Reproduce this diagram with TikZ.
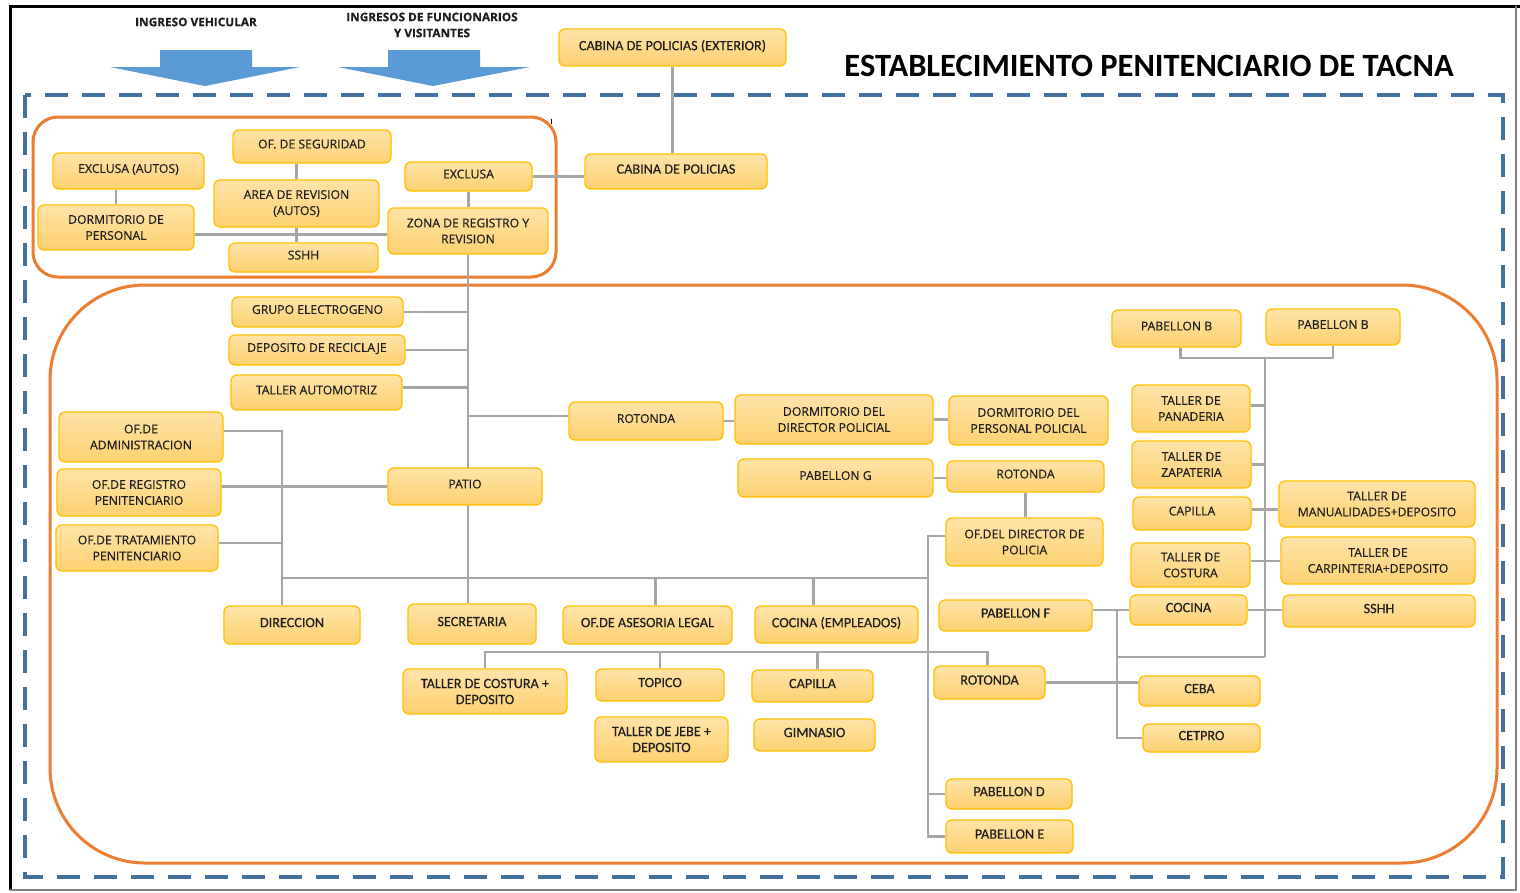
\documentclass[tikz,border=0pt]{standalone}
\usepackage{fontspec}
\setmainfont{Carlito}
\newfontfamily\osans{Open Sans}[FakeBold=0.35]
\newfontfamily\calfont{Carlito}[FakeBold=0.3]
\usetikzlibrary{calc}
\pgfdeclarelayer{bg}
\pgfsetlayers{bg,main}
\definecolor{orng}{HTML}{ED7D31}
\definecolor{dblue}{HTML}{41719C}
\definecolor{ablue}{HTML}{5B9BD5}
\definecolor{bxborder}{HTML}{FFC000}
\definecolor{bxtop}{HTML}{FFE3A8}
\definecolor{bxbot}{HTML}{FDD170}
\definecolor{lnk}{HTML}{A6A6A6}
\definecolor{txt}{HTML}{1E1E1E}
\tikzset{
 bx/.style={draw=bxborder, line width=1.3pt, rounded corners=6pt, top color=bxtop, bottom color=bxbot, align=center, inner sep=0pt, text=txt},
 wf/.style={font=\osans\fontsize{12.2}{16}\selectfont},
 nf/.style={font=\calfont\fontsize{14.2}{16}\selectfont},
 oneline/.style={text depth=5pt},
 lk/.style={draw=lnk, line width=2.3pt},
}
\newcommand\mybox[7][]{%
 \pgfmathsetmacro\cxx{(#3+#5)/2}%
 \pgfmathsetmacro\cyy{(#4+#6)/2}%
 \pgfmathsetmacro\ww{#5-#3}%
 \pgfmathsetmacro\hh{#6-#4}%
 \node[bx,#1,minimum width=\ww pt,minimum height=\hh pt] (#2) at (\cxx,\cyy) {#7};}
\begin{document}
\begin{tikzpicture}[x=1pt,y=-1pt]
\useasboundingbox (0,0) rectangle (1520,892);
% ---------- boxes ----------
\mybox[nf,oneline]{cabext}{559}{29}{786}{66}{CABINA DE POLICIAS (EXTERIOR)}
\mybox[nf,oneline]{cabpol}{585}{154}{767}{189}{CABINA DE POLICIAS}
\mybox[wf,oneline]{exauto}{53}{153}{204}{189}{EXCLUSA (AUTOS)}
\mybox[wf,oneline]{ofseg}{233}{130}{391}{163}{OF. DE SEGURIDAD}
\mybox[wf]{area}{214}{180}{379}{227}{AREA DE REVISION\\(AUTOS)}
\mybox[wf,oneline]{excl}{405}{162}{532}{191}{EXCLUSA}
\mybox[wf]{dorm}{38}{205}{194}{250}{DORMITORIO DE\\PERSONAL}
\mybox[wf,oneline]{sshha}{229}{243}{378}{272}{SSHH}
\mybox[wf]{zona}{388}{208}{548}{254}{ZONA DE REGISTRO Y\\REVISION}
\mybox[wf,oneline]{grupo}{232}{297}{403}{327}{GRUPO ELECTROGENO}
\mybox[wf,oneline]{depo}{229}{335}{405}{365}{DEPOSITO DE RECICLAJE}
\mybox[wf,oneline]{tauto}{231}{375}{402}{410}{TALLER AUTOMOTRIZ}
\mybox[wf]{ofadm}{59}{412}{223}{462}{OF.DE\\ADMINISTRACION}
\mybox[wf]{ofreg}{57}{469}{221}{516}{OF.DE REGISTRO\\PENITENCIARIO}
\mybox[wf]{oftrat}{56}{525}{218}{571}{OF.DE TRATAMIENTO\\PENITENCIARIO}
\mybox[wf,oneline]{patio}{388}{468}{542}{505}{PATIO}
\mybox[wf,oneline]{rota}{569}{402}{723}{440}{ROTONDA}
\mybox[wf]{dirpol}{735}{395}{933}{444}{DORMITORIO DEL\\DIRECTOR POLICIAL}
\mybox[wf]{perpol}{949}{396}{1108}{445}{DORMITORIO DEL\\PERSONAL POLICIAL}
\mybox[wf,oneline]{pabg}{738}{459}{933}{497}{PABELLON G}
\mybox[wf,oneline]{rotb}{947}{461}{1104}{492}{ROTONDA}
\mybox[wf]{ofdir}{946}{518}{1103}{566}{OF.DEL DIRECTOR DE\\POLICIA}
\mybox[nf,oneline]{direc}{224}{606}{360}{644}{DIRECCION}
\mybox[nf,oneline]{secr}{408}{604}{536}{644}{SECRETARIA}
\mybox[nf,oneline]{aseso}{563}{606}{732}{644}{OF.DE ASESORIA LEGAL}
\mybox[nf,oneline]{cocemp}{755}{606}{918}{643}{COCINA (EMPLEADOS)}
\mybox[nf]{tcos}{403}{669}{567}{714}{TALLER DE COSTURA +\\DEPOSITO}
\mybox[nf,oneline]{topico}{596}{669}{724}{701}{TOPICO}
\mybox[nf,oneline]{capb}{752}{670}{873}{702}{CAPILLA}
\mybox[nf]{jebe}{595}{717}{728}{762}{TALLER DE JEBE +\\DEPOSITO}
\mybox[nf,oneline]{gimn}{754}{719}{875}{751}{GIMNASIO}
\mybox[nf,oneline]{rotc}{934}{666}{1045}{699}{ROTONDA}
\mybox[nf,oneline]{ceba}{1139}{676}{1260}{706}{CEBA}
\mybox[nf,oneline]{cetpro}{1143}{724}{1260}{752}{CETPRO}
\mybox[nf,oneline]{pabd}{946}{779}{1072}{809}{PABELLON D}
\mybox[nf,oneline]{pabe}{946}{820}{1073}{853}{PABELLON E}
\mybox[nf,oneline]{pabf}{939}{600}{1092}{631}{PABELLON F}
\mybox[nf,oneline]{coc}{1130}{595}{1247}{625}{COCINA}
\mybox[nf,oneline]{sshhb}{1283}{595}{1475}{627}{SSHH}
\mybox[wf,oneline]{pba}{1112}{310}{1241}{347}{PABELLON B}
\mybox[wf,oneline]{pbb}{1266}{309}{1400}{345}{PABELLON B}
\mybox[wf]{tpan}{1132}{385}{1250}{432}{TALLER DE\\PANADERIA}
\mybox[wf]{tzap}{1132}{441}{1251}{488}{TALLER DE\\ZAPATERIA}
\mybox[wf,oneline]{capr}{1133}{497}{1251}{530}{CAPILLA}
\mybox[wf]{tman}{1279}{481}{1475}{527}{TALLER DE\\MANUALIDADES+DEPOSITO}
\mybox[wf]{tcost}{1131}{543}{1250}{587}{TALLER DE\\COSTURA}
\mybox[wf]{tcarp}{1281}{537}{1475}{584}{TALLER DE\\CARPINTERIA+DEPOSITO}
% ---------- titles ----------
\node[font=\bfseries\fontsize{32.5}{34}\selectfont, text=black] (title) at (1149,66) {ESTABLECIMIENTO PENITENCIARIO DE TACNA};
\node[font=\osans\bfseries\fontsize{11.8}{16}\selectfont, text=txt] (lab1) at (196,22) {INGRESO VEHICULAR};
\node[font=\osans\bfseries\fontsize{11.8}{16}\selectfont, text=txt, align=center] (lab2) at (432,25) {INGRESOS DE FUNCIONARIOS\\Y VISITANTES};
% ---------- background layer ----------
\begin{pgfonlayer}{bg}
\fill[white] (0,0) rectangle (1520,892);
\draw[black, line width=3pt] (10,890) -- (10,6) -- (1520,6);
\draw[gray, line width=1.2pt] (1516,6) -- (1516,890) -- (10,890);
\draw[dblue, line width=4pt, dash pattern=on 23pt off 14pt] (25,95) rectangle (1503,877);
\fill[ablue] (160,50) -- (252,50) -- (252,67) -- (300,67) -- (205,86) -- (110,67) -- (160,67) -- cycle;
\fill[ablue] (388,50) -- (480,50) -- (480,67) -- (530,67) -- (433,86) -- (338,67) -- (388,67) -- cycle;
\draw[orng, line width=3pt, rounded corners=25pt] (33,117) rectangle (556,277);
\draw[orng, line width=3pt, rounded corners=95pt] (50,285) rectangle (1497,863);
\draw[black, line width=0.8pt] (551,119) -- (551,124);
% connectors top
\draw[lk] (cabext.south) -- (cabext.south |- cabpol.north);
\draw[lk] (excl.east) -- (excl.east -| cabpol.west);
\draw[lk] (excl.south) -- (excl.south |- zona.north);
\draw[lk] (dorm.north) -- (dorm.north |- exauto.south);
\draw[lk] (area.north) -- (area.north |- ofseg.south);
\draw[lk] (area.south) -- (area.south |- sshha.north);
\draw[lk] ([yshift=-7pt]dorm.east) -- ([yshift=-7pt]dorm.east -| zona.west);
% trunk
\draw[lk] (zona.south) -- (zona.south |- secr.north);
\draw[lk] (grupo.east) -- (grupo.east -| zona.south);
\draw[lk] (depo.east) -- (depo.east -| zona.south);
\draw[lk] ([yshift=5pt]tauto.east) -- ([yshift=5pt]tauto.east -| zona.south);
\draw[lk] ([yshift=5pt]rota.west) -- ([yshift=5pt]rota.west -| zona.south);
\draw[lk] (rota.east) -- (rota.east -| dirpol.west);
\draw[lk] (dirpol.east) -- (dirpol.east -| perpol.west);
\draw[lk] (pabg.east) -- (pabg.east -| rotb.west);
\draw[lk] (rotb.south) -- (rotb.south |- ofdir.north);
% left offices and bus 1
\coordinate (vx) at (282,578);
\coordinate (vr) at (928,578);
\draw[lk] ([yshift=6pt]ofadm.east) -| (vx |- direc.north);
\draw[lk] (ofreg.east |- patio.west) -- (patio.west);
\draw[lk] ([yshift=5pt]oftrat.east) -- ([yshift=5pt]oftrat.east -| vx);
\draw[lk] (vx) -- (vr);
\draw[lk] ([yshift=6pt]ofdir.west) -| (vr |- pabe.west) -- (pabe.west);
\draw[lk] (pabd.west) -- (pabd.west -| vr);
\draw[lk] ([xshift=8pt]aseso.north) -- ([xshift=8pt]aseso.north |- vx);
\draw[lk] ([xshift=-23pt]cocemp.north) -- ([xshift=-23pt]cocemp.north |- vx);
% bus 2
\coordinate (b2) at (0,652);
\draw[lk] (tcos.north) -- (tcos.north |- b2) -- ([xshift=-2pt]rotc.north |- b2) -- ([xshift=-2pt]rotc.north);
\draw[lk] (topico.north) -- (topico.north |- b2);
\draw[lk] ([xshift=5pt]capb.north) -- ([xshift=5pt]capb.north |- b2);
\draw[lk] (rotc.east) -- (rotc.east -| ceba.west);
% right lower
\coordinate (vm) at (1117,657);
\coordinate (vb) at (1265,657);
\coordinate (bpb) at (1265,358);
\draw[lk] (coc.west -| pabf.east) -- (coc.west);
\draw[lk] (vm |- coc.west) -- (vm |- cetpro.west) -- (cetpro.west);
\draw[lk] (vm) -- (vb);
\draw[lk] ([xshift=4pt]pba.south) -- ([xshift=4pt]pba.south |- bpb) -- (pbb.south |- bpb) -- (pbb.south);
\draw[lk] (bpb) -- (vb);
\draw[lk] ([yshift=3pt]tpan.east) -- ([yshift=3pt]tpan.east -| vb);
\draw[lk] (tzap.east) -- (tzap.east -| vb);
\draw[lk] ([yshift=4pt]capr.east) -- ([yshift=4pt]capr.east -| tman.west);
\draw[lk] ([yshift=4pt]tcost.east) -- ([yshift=4pt]tcost.east -| tcarp.west);
\draw[lk] (coc.east) -- (coc.east -| sshhb.west);
\end{pgfonlayer}
\end{tikzpicture}
\end{document}
